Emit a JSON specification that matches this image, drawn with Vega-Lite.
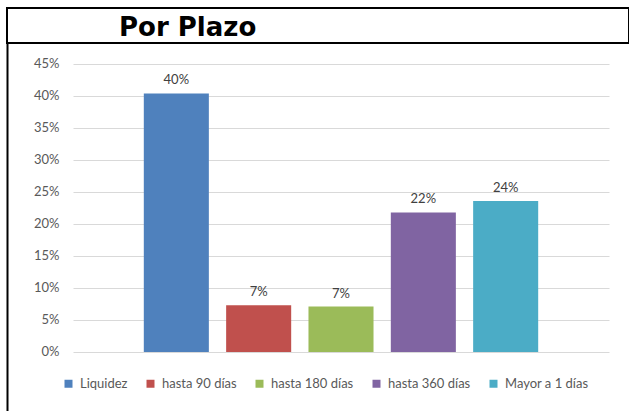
{
  "$schema": "https://vega.github.io/schema/vega-lite/v6.json",
  "padding": {"left": 6, "top": 7, "right": 0, "bottom": 0},
  "autosize": {"type": "pad"},
  "background": "white",
  "spacing": 0,
  "bounds": "flush",
  "config": {"view": {"stroke": null}, "font": "Lato"},
  "vconcat": [
    {
      "width": 622,
      "height": 35,
      "view": {"stroke": "black", "strokeWidth": 2},
      "title": {"text": "Por Plazo", "orient": "top", "anchor": "start", "offset": -33, "dx": 112, "font": "DejaVu Sans", "fontSize": 26, "fontWeight": "bold", "color": "black"},
      "data": {"values": [{"t": ""}]},
      "mark": {"type": "text"},
      "encoding": {"text": {"field": "t", "type": "nominal"}}
    },
    {
      "width": 622,
      "height": 368,
      "data": {
        "values": [
          {"plazo": "Liquidez", "v": 0.404},
          {"plazo": "hasta 90 días", "v": 0.073},
          {"plazo": "hasta 180 días", "v": 0.071},
          {"plazo": "hasta 360 días", "v": 0.218},
          {"plazo": "Mayor a 1 días", "v": 0.236}
        ]
      },
      "encoding": {
        "x": {
          "field": "plazo",
          "type": "nominal",
          "sort": null,
          "axis": null,
          "scale": {"range": [66, 602], "paddingInner": 0.21, "paddingOuter": 0.86}
        },
        "y": {
          "field": "v",
          "type": "quantitative",
          "scale": {"domain": [-0.0922, 0.4828], "nice": false, "zero": false},
          "axis": {
            "values": [0, 0.05, 0.1, 0.15, 0.2, 0.25, 0.3, 0.35, 0.4, 0.45],
            "format": ".0%",
            "title": null,
            "ticks": false,
            "domain": true,
            "domainColor": "black",
            "domainWidth": 2,
            "grid": true,
            "gridColor": "#d9d9d9",
            "gridWidth": 1,
            "labelPadding": -52,
            "labelAlign": "right",
            "labelFont": "Lato",
            "labelFontSize": 13,
            "labelColor": "#595959"
          }
        }
      },
      "layer": [
        {
          "mark": {"type": "bar"},
          "encoding": {
            "color": {
              "field": "plazo",
              "type": "nominal",
              "sort": null,
              "scale": {
                "domain": ["Liquidez", "hasta 90 días", "hasta 180 días", "hasta 360 días", "Mayor a 1 días"],
                "range": ["#4F81BD", "#C0504D", "#9BBB59", "#8064A2", "#4BACC6"]
              },
              "legend": {
                "orient": "none",
                "legendX": 55,
                "legendY": 369,
                "direction": "horizontal",
                "title": null,
                "symbolType": "square",
                "symbolSize": 64,
                "symbolStrokeWidth": 0,
                "labelFont": "Lato",
                "labelFontSize": 13,
                "labelColor": "#595959",
                "columnPadding": 16,
                "labelOffset": 5
              }
            }
          }
        },
        {
          "mark": {"type": "text", "baseline": "bottom", "dy": -6, "font": "Lato", "fontSize": 13, "color": "#404040"},
          "encoding": {"text": {"field": "v", "type": "quantitative", "format": ".0%"}}
        }
      ]
    }
  ]
}
